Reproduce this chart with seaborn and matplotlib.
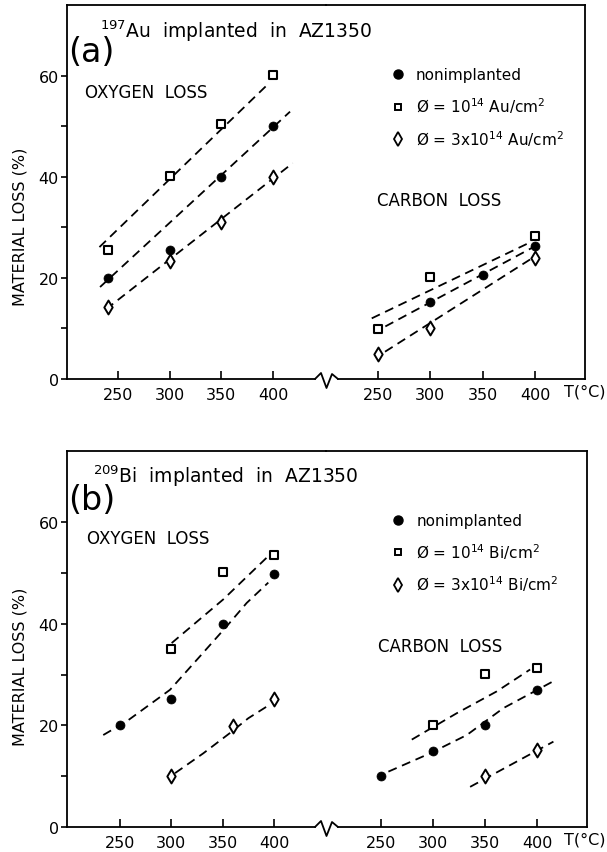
import numpy as np
import pandas as pd
import matplotlib
matplotlib.use("Agg")
import matplotlib.pyplot as plt
from matplotlib.lines import Line2D
import seaborn as sns

sns.set_style("ticks")
plt.rcParams["font.family"] = ["DejaVu Sans"]
plt.rcParams["mathtext.fontset"] = "dejavusans"
for k in ("text.color", "axes.labelcolor", "xtick.color", "ytick.color", "axes.edgecolor"):
    plt.rcParams[k] = "black"

# ---------------- data : panel (a)  197Au ----------------
a_ox_T = [240, 300, 350, 400]
a_ox_non = [20.0, 25.5, 40.0, 50.0]
a_ox_lo = [25.5, 40.2, 50.5, 60.2]
a_ox_hi = [14.2, 23.4, 31.0, 40.0]
a_ox_fit_non_T = [232.6, 416.5]
a_ox_fit_non = [18.2, 52.9]
a_ox_fit_lo_T = [232.0, 396.0]
a_ox_fit_lo = [26.1, 58.5]
a_ox_fit_hi_T = [238.4, 419.0]
a_ox_fit_hi = [13.8, 42.7]

a_c_T = [250, 300, 350, 400]
a_c_non = [np.nan, 15.2, 20.5, 26.4]
a_c_lo = [9.8, 20.2, np.nan, 28.3]
a_c_hi = [4.9, 10.1, np.nan, 24.0]
a_c_fit_non_T = [257.0, 403.0]
a_c_fit_non = [10.4, 26.6]
a_c_fit_lo_T = [244.0, 396.0]
a_c_fit_lo = [12.0, 27.1]
a_c_fit_hi_T = [256.7, 398.0]
a_c_fit_hi = [5.4, 24.0]

# ---------------- data : panel (b)  209Bi ----------------
b_ox_non_T = [250, 300, 350, 400]
b_ox_non = [20.1, 25.2, 40.0, 49.7]
b_ox_lo_T = [300, 350, 400]
b_ox_lo = [35.0, 50.2, 53.5]
b_ox_hi_T = [300, 360, 400]
b_ox_hi = [10.1, 19.9, 25.2]
b_ox_fit_non_T = [233.7, 256.5, 298.7, 327.9, 353.9, 373.4, 394.4]
b_ox_fit_non = [18.1, 20.8, 27.0, 33.6, 39.5, 44.1, 48.1]
b_ox_fit_lo_T = [300.3, 350.6, 392.8]
b_ox_fit_lo = [36.2, 44.8, 53.0]
b_ox_fit_hi_T = [303.6, 331.1, 357.1, 374.9, 396.0]
b_ox_fit_hi = [10.6, 14.5, 18.5, 21.4, 24.1]

b_c_non_T = [250, 300, 350, 400]
b_c_non = [10.1, 15.0, 20.1, 27.0]
b_c_lo_T = [300, 350, 400]
b_c_lo = [20.1, 30.1, 31.3]
b_c_hi_T = [350, 400]
b_c_hi = [10.1, 15.2]
b_c_fit_non_T = [257.0, 297.1, 332.4, 367.6, 415.7]
b_c_fit_non = [10.9, 14.5, 18.1, 23.4, 28.7]
b_c_fit_lo_T = [279.5, 322.8, 361.3, 393.3]
b_c_fit_lo = [17.2, 22.4, 26.7, 31.0]
b_c_fit_hi_T = [335.6, 415.7]
b_c_fit_hi = [7.9, 16.8]

y_ticks = [0, 20, 40, 60]
y_minor = [10, 30, 50]
x_ticks = [250, 300, 350, 400]

legend_a = ["nonimplanted", r"Ø = 10$^{14}$ Au/cm$^2$", r"Ø = 3x10$^{14}$ Au/cm$^2$"]
legend_b = ["nonimplanted", r"Ø = 10$^{14}$ Bi/cm$^2$", r"Ø = 3x10$^{14}$ Bi/cm$^2$"]

# ---------------- styling ----------------
W, H = 607, 853
LW = 1.3
MK = {
    "non": dict(marker="o", s=42, color="black", edgecolor="black", linewidth=0.5),
    "lo": dict(marker="s", s=28, color="white", edgecolor="black", linewidth=1.5),
    "hi": dict(marker="d", s=50, color="white", edgecolor="black", linewidth=1.4),
}
DASH = (0, (5, 3.2))

fig = plt.figure(figsize=(W / 100, H / 100), dpi=100)


def rect(x0, x1, y_top, y_bot):
    return [x0 / W, 1 - y_bot / H, (x1 - x0) / W, (y_bot - y_top) / H]


def pts(ax, T, y, kind):
    df = pd.DataFrame({"T": T, "y": y}).dropna()
    sns.scatterplot(data=df, x="T", y="y", ax=ax, legend=False, zorder=4,
                    clip_on=False, **MK[kind])


def fit(ax, T, y):
    df = pd.DataFrame({"T": T, "y": y})
    sns.lineplot(data=df, x="T", y="y", ax=ax, color="black", lw=1.3,
                 linestyle=DASH, zorder=3, legend=False, estimator=None)


def setup(axL, axR, xlL, xlR, ybot_px):
    for ax, xl in ((axL, xlL), (axR, xlR)):
        ax.set_xlim(*xl)
        ax.set_ylim(0, 74)
        ax.set_xticks(x_ticks)
        ax.set_xticklabels([str(t) for t in x_ticks])
        ax.tick_params(axis="x", direction="in", length=5.5, width=1.2,
                       labelsize=11.5, pad=6)
        for s in ax.spines.values():
            s.set_linewidth(LW)
        ax.set_xlabel("")
        ax.set_ylabel("")
        ax.patch.set_alpha(0)
    axL.spines["right"].set_visible(False)
    axR.spines["left"].set_visible(False)
    axL.set_yticks(y_ticks)
    axL.set_yticks(y_minor, minor=True)
    axL.tick_params(axis="y", which="both", direction="out", length=4,
                    width=1.2, labelsize=11.5, pad=2)
    axR.set_yticks([])
    axR.tick_params(axis="y", which="both", left=False, labelleft=False)
    # gap in the bottom spine for the axis break
    lo, hi = xlL
    axL.spines["bottom"].set_bounds(lo, lo + (315 - 67) / 259 * (hi - lo))
    lo, hi = xlR
    axR.spines["bottom"].set_bounds(lo + (338 - 326) / 259 * (hi - lo), hi)
    # zig-zag break mark
    zx = [315, 321, 326.5, 332, 338]
    zy = [0, -6, 9, -5, 0]
    fig.add_artist(Line2D([x / W for x in zx],
                          [1 - (ybot_px + y) / H for y in zy],
                          color="black", lw=LW, transform=fig.transFigure))
    axL.set_ylabel("MATERIAL LOSS (%)", fontsize=11.5)


def legend(ax, labels, ytop):
    handles = [
        Line2D([], [], ls="", marker="o", color="black", markersize=6.5),
        Line2D([], [], ls="", marker="s", mfc="white", mec="black", markersize=5, mew=1.4),
        Line2D([], [], ls="", marker="d", mfc="white", mec="black", markersize=7, mew=1.3),
    ]
    ax.legend(handles, labels, loc="upper left", bbox_to_anchor=(0.247, ytop),
              frameon=False, fontsize=11, handlelength=1.0, handletextpad=0.7,
              labelspacing=0.85, borderpad=0, borderaxespad=0)


def ftext(x, y, s, **kw):
    fig.text(x / W, 1 - y / H, s, **kw)


# ---------------- panel (a) ----------------
aL = fig.add_axes(rect(67, 326, 6, 380))
aR = fig.add_axes(rect(326, 585, 6, 380))
fit(aL, a_ox_fit_lo_T, a_ox_fit_lo)
fit(aL, a_ox_fit_non_T, a_ox_fit_non)
fit(aL, a_ox_fit_hi_T, a_ox_fit_hi)
pts(aL, a_ox_T, a_ox_lo, "lo")
pts(aL, a_ox_T, a_ox_non, "non")
pts(aL, a_ox_T, a_ox_hi, "hi")
fit(aR, a_c_fit_lo_T, a_c_fit_lo)
fit(aR, a_c_fit_non_T, a_c_fit_non)
fit(aR, a_c_fit_hi_T, a_c_fit_hi)
pts(aR, a_c_T, a_c_non, "non")
pts(aR, a_c_T, a_c_lo, "lo")
pts(aR, a_c_T, a_c_hi, "hi")
setup(aL, aR, (200.6, 451.3), (200.3, 447.8), 380)
aL.yaxis.set_label_coords(-0.154, 0.41)
aL.text(218, 56.8, "OXYGEN  LOSS", fontsize=12, ha="left", va="center")
aR.text(249, 35.4, "CARBON  LOSS", fontsize=12, ha="left", va="center")
legend(aR, legend_a, 0.833)
ftext(100, 38, r"$^{197}$Au  implanted  in  AZ1350", fontsize=13.5, ha="left", va="baseline")
ftext(68, 52, "(a)", fontsize=24, ha="left", va="center")
ftext(605, 392, "T(°C)", fontsize=11.5, ha="right", va="center")

# ---------------- panel (b) ----------------
bL = fig.add_axes(rect(67, 326, 452, 828))
bR = fig.add_axes(rect(326, 587, 452, 828))
fit(bL, b_ox_fit_lo_T, b_ox_fit_lo)
fit(bL, b_ox_fit_non_T, b_ox_fit_non)
fit(bL, b_ox_fit_hi_T, b_ox_fit_hi)
pts(bL, b_ox_lo_T, b_ox_lo, "lo")
pts(bL, b_ox_non_T, b_ox_non, "non")
pts(bL, b_ox_hi_T, b_ox_hi, "hi")
fit(bR, b_c_fit_lo_T, b_c_fit_lo)
fit(bR, b_c_fit_non_T, b_c_fit_non)
fit(bR, b_c_fit_hi_T, b_c_fit_hi)
pts(bR, b_c_non_T, b_c_non, "non")
pts(bR, b_c_lo_T, b_c_lo, "lo")
pts(bR, b_c_hi_T, b_c_hi, "hi")
setup(bL, bR, (198.4, 450.6), (197.0, 448.0), 828)
bL.yaxis.set_label_coords(-0.154, 0.428)
bL.text(217.6, 56.9, "OXYGEN  LOSS", fontsize=12, ha="left", va="center")
bR.text(247.4, 35.6, "CARBON  LOSS", fontsize=12, ha="left", va="center")
legend(bR, legend_b, 0.835)
ftext(93, 483, r"$^{209}$Bi  implanted  in  AZ1350", fontsize=13.5, ha="left", va="baseline")
ftext(68, 501, "(b)", fontsize=24, ha="left", va="center")
ftext(605, 840, "T(°C)", fontsize=11.5, ha="right", va="center")

fig.savefig("out.png", dpi=100)
